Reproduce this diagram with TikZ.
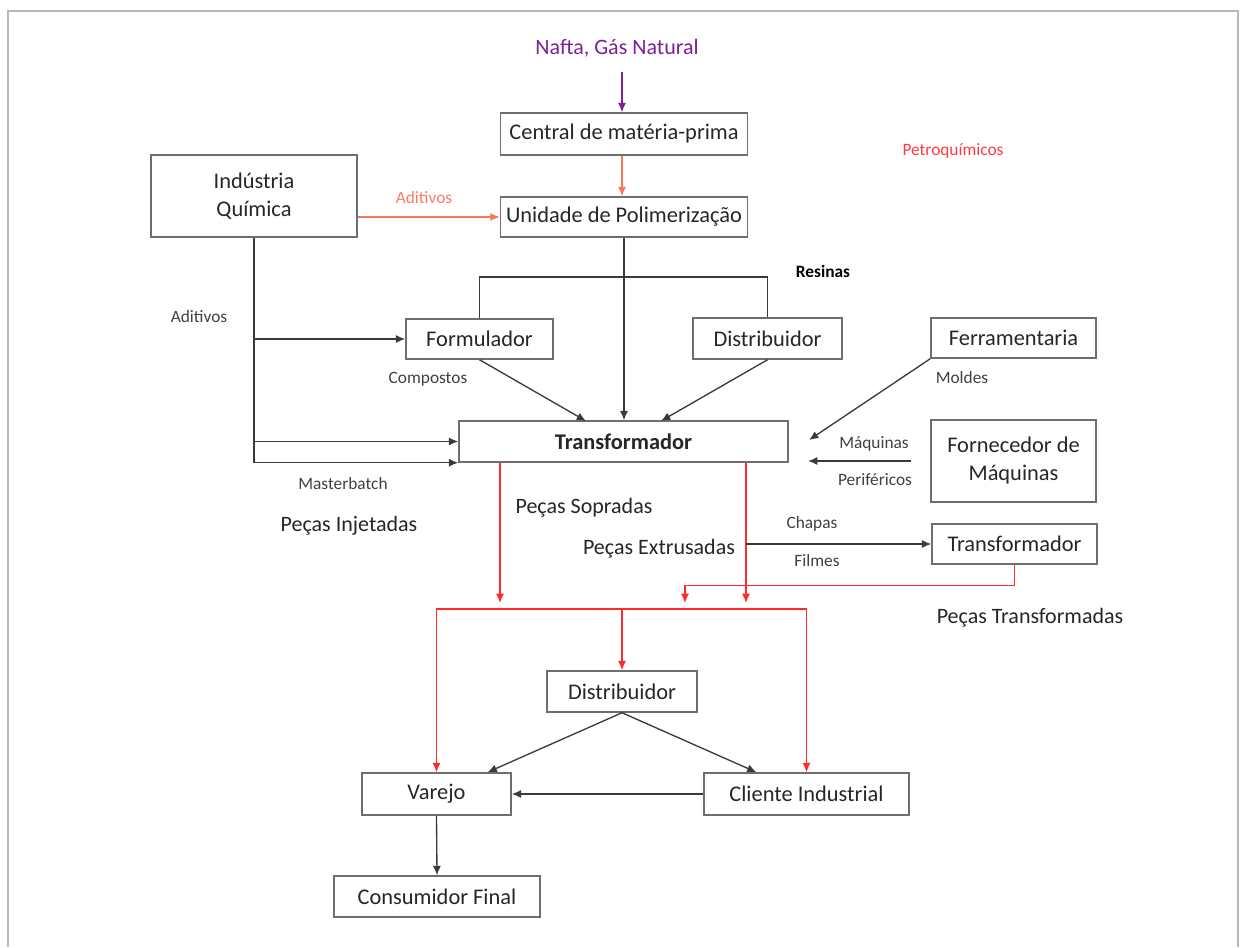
\documentclass[tikz,border=0pt]{standalone}
\usepackage{fontspec}
\setmainfont{Carlito}
\usetikzlibrary{arrows.meta,calc}
\definecolor{txt}{HTML}{262626}
\definecolor{lbl}{HTML}{404040}
\definecolor{boxc}{HTML}{6E6E6E}
\definecolor{linec}{HTML}{3A3A3A}
\definecolor{redl}{HTML}{FF2A2A}
\definecolor{orangel}{HTML}{F47B57}
\definecolor{salmon}{HTML}{FF7A64}
\definecolor{purp}{HTML}{7E2196}
\definecolor{petro}{HTML}{FF3B3B}
\tikzset{
  box/.style={draw=boxc, line width=1.1pt, text=txt, inner sep=0pt, font=\fontsize{16.8}{19}\selectfont, align=center},
  big/.style={text=txt, inner sep=0pt, font=\fontsize{16.5}{19}\selectfont},
  small/.style={text=lbl, inner sep=0pt, font=\fontsize{13}{15}\selectfont},
  conn/.style={draw=linec, line width=1pt},
  arr/.style={conn, -{Latex[length=7pt,width=6pt]}},
  redarr/.style={draw=redl, line width=1pt, -{Latex[length=7pt,width=6pt]}},
}
\begin{document}
\begin{tikzpicture}[x=0.75pt,y=-0.75pt]
\useasboundingbox (0,0) rectangle (1242,947);
\draw[black!28, line width=2.2pt] (8,947) -- (8,11) -- (1238,11) -- (1238,947);

% boxes
\node[box, minimum width=247*0.75pt, minimum height=42*0.75pt] (central) at (624,134) {Central de matéria-prima};
\node[box, minimum width=247*0.75pt, minimum height=40*0.75pt] (unidade) at (624,217) {Unidade de Polimerização};
\node[box, minimum width=206*0.75pt, minimum height=82*0.75pt] (industria) at (254,196) {Indústria\\[2pt]Química};
\node[box, minimum width=147*0.75pt, minimum height=40*0.75pt] (formulador) at (479.5,339) {Formulador};
\node[box, minimum width=149*0.75pt, minimum height=41*0.75pt] (dist1) at (767.5,338.5) {Distribuidor};
\node[box, minimum width=165*0.75pt, minimum height=40*0.75pt] (ferram) at (1013.5,338) {Ferramentaria};
\node[box, minimum width=165*0.75pt, minimum height=82*0.75pt] (forn) at (1013.5,461) {Fornecedor de\\[2pt]Máquinas};
\node[box, minimum width=329*0.75pt, minimum height=41*0.75pt, font=\fontsize{16.8}{19}\selectfont\bfseries] (transf) at (623.5,441.5) {Transformador};
\node[box, minimum width=165*0.75pt, minimum height=40*0.75pt] (transf2) at (1014.5,544) {Transformador};
\node[box, minimum width=150*0.75pt, minimum height=41*0.75pt] (dist2) at (622,691.5) {Distribuidor};
\node[box, minimum width=149*0.75pt, minimum height=42*0.75pt] (varejo) at (436.5,794) {Varejo};
\node[box, minimum width=205*0.75pt, minimum height=42*0.75pt] (cliente) at (806.5,794) {Cliente Industrial};
\node[box, minimum width=206*0.75pt, minimum height=41*0.75pt] (consumidor) at (437,896.5) {Consumidor Final};

% labels
\node[big, text=purp] (nafta) at (617,48) {Nafta, Gás Natural};
\node[small, text=salmon] (aditR) at (424,198) {Aditivos};
\node[small, text=petro] (petroq) at (953,151) {Petroquímicos};
\node[small, text=black, font=\fontsize{13}{15}\selectfont\bfseries] (resinas) at (823,271) {Resinas};
\node[small] (adit) at (199,317) {Aditivos};
\node[small] (compostos) at (428,379) {Compostos};
\node[small] (moldes) at (962,378) {Moldes};
\node[small] (maquinas) at (874,444) {Máquinas};
\node[small] (perif) at (875,480) {Periféricos};
\node[small] (master) at (343,484) {Masterbatch};
\node[big] (injet) at (349,526) {Peças Injetadas};
\node[big] (sopr) at (584,508) {Peças Sopradas};
\node[big] (extr) at (659,549) {Peças Extrusadas};
\node[small] (chapas) at (812,524) {Chapas};
\node[small] (filmes) at (817,561) {Filmes};
\node[big] (ptransf) at (1030,618) {Peças Transformadas};

% coordinates
\coordinate (na) at (622,72);
\coordinate (rb) at (624,277);
\coordinate (t1) at (586,421);
\coordinate (t2) at (661,421);
\coordinate (m1) at (809,440);
\coordinate (f0) at (911,461);
\coordinate (f1) at (808,461);
\coordinate (r1) at (500,603);
\coordinate (r2) at (746,603);
\coordinate (r3) at (685,603);
\coordinate (ch) at (746,544);
\coordinate (rh) at (622,609);

% connectors
\draw[draw=purp, line width=1pt, -{Latex[length=7pt,width=6pt]}] (na) -- (na |- central.north);
\draw[draw=orangel, line width=1pt, -{Latex[length=7pt,width=6pt]}] (na |- central.south) -- (na |- unidade.north);
\draw[draw=orangel, line width=1pt, -{Latex[length=7pt,width=6pt]}] (industria.east |- unidade.west) -- (unidade.west);
\draw[arr] (unidade.south) -- (unidade.south |- transf.north);
\draw[conn] (formulador.north) |- (rb) -| (dist1.north);
\draw[arr] (formulador.south) -- (t1);
\draw[arr] (dist1.south) -- (t2);
\draw[arr] (industria.south) |- (transf.south west);
\draw[arr] (industria.south |- formulador.west) -- (formulador.west);
\draw[arr] (industria.south |- transf.west) -- (transf.west);
\draw[arr] (ferram.south west) -- (m1);
\draw[arr] (f0) -- (f1);
\draw[redarr] (r1 |- transf.south) -- (r1);
\draw[redarr] (r2 |- transf.south) -- (r2);
\draw[arr] (ch) -- (transf2.west);
\draw[redarr] (transf2.south) -- ++(0,21) -| (r3);
\draw[redarr] (rh) -| (varejo.north);
\draw[redarr] (rh) -| (cliente.north);
\draw[redarr] (rh) -- (dist2.north);
\draw[arr] (dist2.south) -- ($(varejo.north)+(51,0)$);
\draw[arr] (dist2.south) -- ($(cliente.north)+(-50,0)$);
\draw[arr] (cliente.west) -- (varejo.east);
\draw[arr] (varejo.south) -- (consumidor.north);
\end{tikzpicture}
\end{document}
